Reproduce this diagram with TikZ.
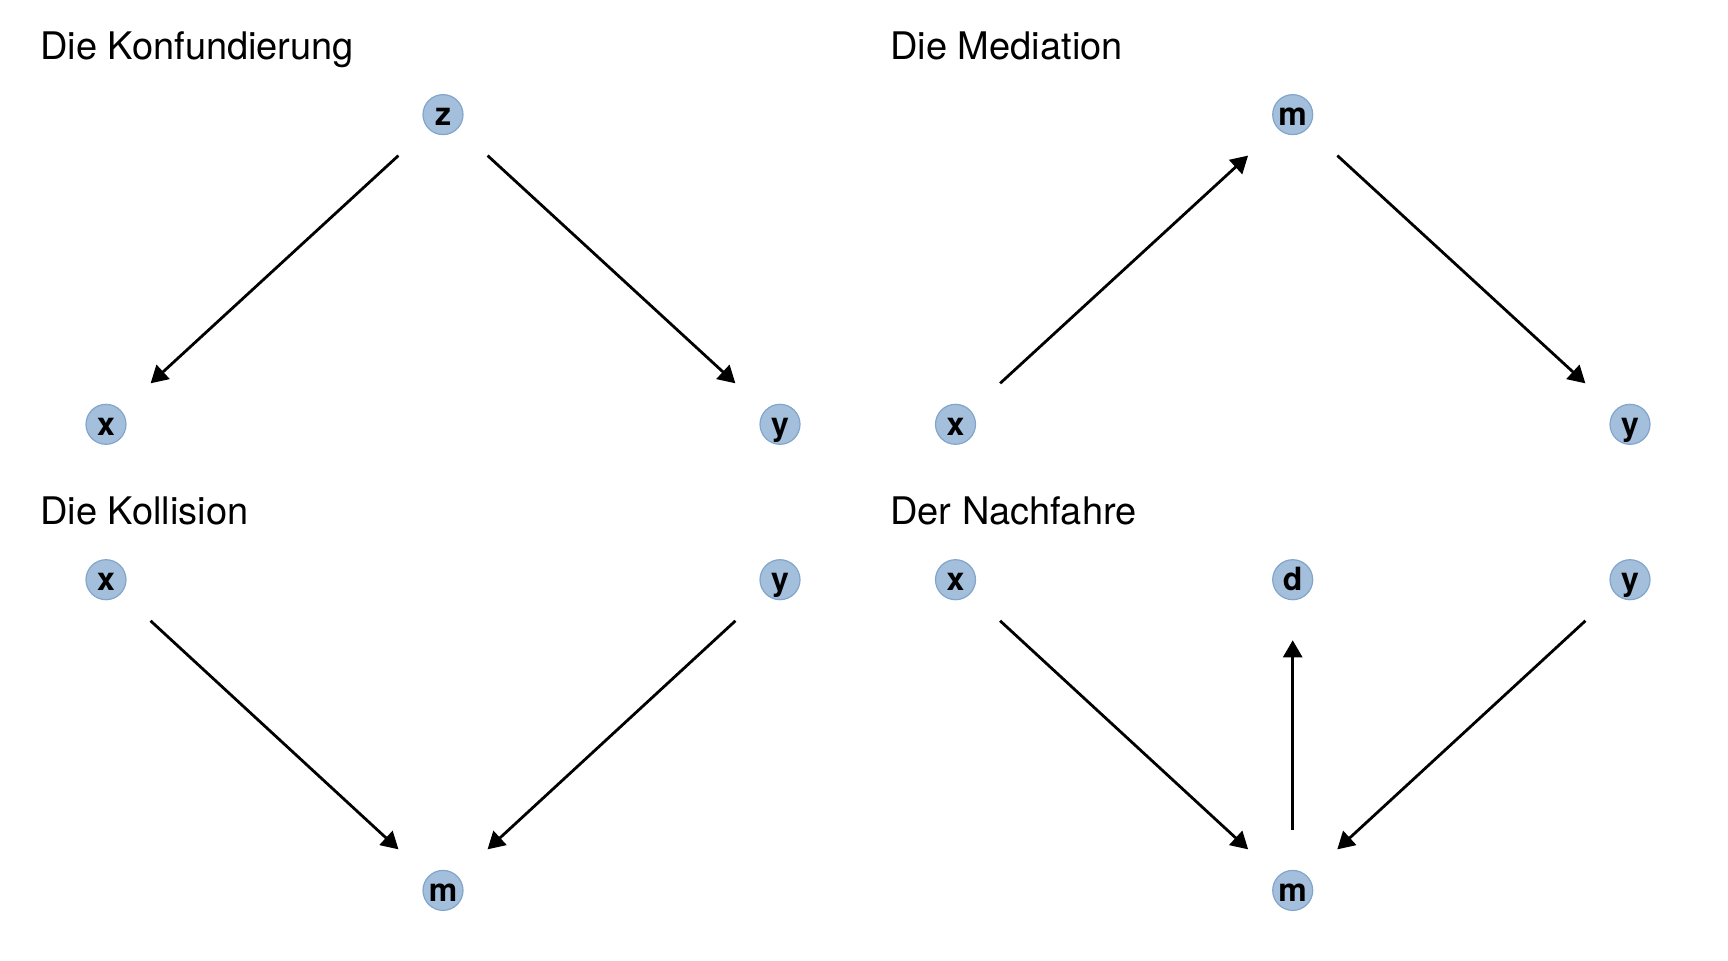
\documentclass[tikz,border=0pt]{standalone}
\usepackage{fontspec}
\setmainfont{TeX Gyre Heros}
\usetikzlibrary{arrows.meta}
\definecolor{nodefill}{RGB}{163,191,219}
\definecolor{nodeedge}{RGB}{130,165,204}
\begin{document}
\begin{tikzpicture}[x=0.5pt,y=-0.5pt,
  var/.style={circle, minimum size=20pt, inner sep=0pt, fill=nodefill, draw=nodeedge,
    line width=0.6pt, text height=11pt, text depth=0pt,
    font=\fontsize{16}{16}\selectfont\bfseries},
  edge/.style={-{Triangle[length=8.5pt,width=9.5pt]}, line width=1.4pt,
    shorten <=20pt, shorten >=20pt},
  paneltitle/.style={anchor=base west, inner sep=0pt,
    font=\fontsize{19}{19}\selectfont}]
\useasboundingbox (0,0) rectangle (1728,960);

% confounding
\node[paneltitle] (t1) at (40,59) {Die Konfundierung};
\node[var] (cz) at (443,114.6) {z};
\node[var] (cx) at (106,424.3) {x};
\node[var] (cy) at (780,424.3) {y};
\draw[edge] (cz) -- (cx);
\draw[edge] (cz) -- (cy);

% mediation
\node[paneltitle] (t2) at (890,59) {Die Mediation};
\node[var] (mm) at (1292.7,114.6) {m};
\node[var] (mx) at (955.5,424.3) {x};
\node[var] (my) at (1630,424.3) {y};
\draw[edge] (mx) -- (mm);
\draw[edge] (mm) -- (my);

% collider
\node[paneltitle] (t3) at (40,524) {Die Kollision};
\node[var] (kx) at (106,579.7) {x};
\node[var] (ky) at (780,579.7) {y};
\node[var] (km) at (443,890.4) {m};
\draw[edge] (kx) -- (km);
\draw[edge] (ky) -- (km);

% descendant
\node[paneltitle] (t4) at (890,524) {Der Nachfahre};
\node[var] (nx) at (955.5,579.7) {x};
\node[var] (nd) at (1292.7,579.7) {d};
\node[var] (ny) at (1630,579.7) {y};
\node[var] (nm) at (1292.7,890.4) {m};
\draw[edge] (nx) -- (nm);
\draw[edge] (ny) -- (nm);
\draw[edge] (nm) -- (nd);
\end{tikzpicture}
\end{document}
